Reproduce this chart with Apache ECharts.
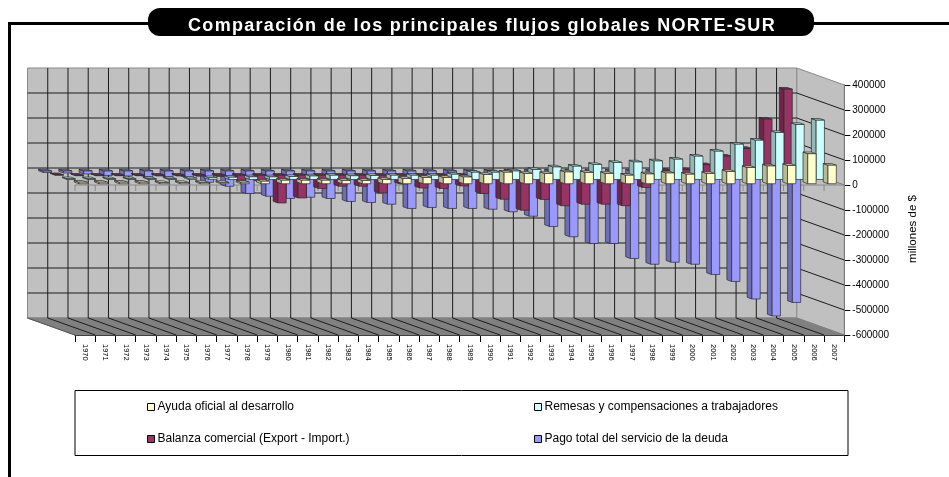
<!DOCTYPE html>
<html><head><meta charset="utf-8">
<style>html,body{margin:0;padding:0;background:#fff}#c{width:949px;height:477px}</style>
<script src="https://cdn.jsdelivr.net/npm/echarts@6/dist/echarts.min.js"></script>
</head><body><div id="c"></div>
<script>
const titleText = 'Comparación de los principales flujos globales NORTE-SUR';
const years = ['1970','1971','1972','1973','1974','1975','1976','1977','1978','1979','1980','1981','1982','1983','1984','1985','1986','1987','1988','1989','1990','1991','1992','1993','1994','1995','1996','1997','1998','1999','2000','2001','2002','2003','2004','2005','2006','2007'];
const ayuda = [6000,6000,6000,6000,5000,5000,5000,5000,6000,10000,14000,14000,14000,13000,13000,17000,21000,25000,25000,27000,37000,46000,41000,41000,47000,45000,41000,34000,39000,43000,38000,41000,49000,65000,71000,73000,120000,74000];
const remesas = [3000,3000,3000,3000,3000,3000,5000,7000,9000,10500,10500,12000,14000,17000,15000,16000,17000,17000,17000,21000,29000,29000,34000,40000,50000,53000,60000,68000,70000,74000,81000,93000,113000,141000,157000,188000,220000,237000];
const balanza = [2000,-2000,-2000,-2000,-2000,-3000,-3000,-4000,-5000,-20000,-25000,-111000,-91000,-53000,-44000,-44000,-71000,-35000,-51000,-53000,-43000,-73000,-96000,-140000,-97000,-122000,-116000,-116000,-122000,-49000,20000,22000,42000,76000,107000,224000,344000,null];
const deuda = [-6000,-8000,-12000,-18000,-20000,-23000,-23000,-26000,-45000,-61000,-90000,-101000,-110000,-105000,-110000,-122000,-126000,-133000,-150000,-146000,-150000,-150000,-153000,-163000,-181000,-222000,-263000,-290000,-290000,-350000,-373000,-365000,-373000,-414000,-442000,-512000,-580000,-526000];
const yTicks = {min:-600000,max:400000,interval:100000};

// the title in the reference is letter-spaced; keep it a single real text run
const nativeFillText = CanvasRenderingContext2D.prototype.fillText;
CanvasRenderingContext2D.prototype.fillText = function(t,x,y,m){
  if(t===titleText){ this.letterSpacing='1.3px'; nativeFillText.call(this,t,x,y); this.letterSpacing='0px'; }
  else if(m===undefined){ nativeFillText.call(this,t,x,y); }
  else { nativeFillText.call(this,t,x,y,m); }
};

const DX = -47.5, DY = -17, ROWS = 4;
function shade(c,k){const n=parseInt(c.slice(1),16);const f=s=>Math.round(((n>>s)&255)*k);return `rgb(${f(16)},${f(8)},${f(0)})`;}
function boxItem(row,color){
  return function(params,api){
    const v=api.value(1); if(v==null||isNaN(v)) return;
    const i=api.value(0);
    const a=api.coord([i,v]), b=api.coord([i,0]);
    const bw=api.size([1,0])[0]*0.41;
    const fx=(row+0.17)*DX/ROWS, fy=(row+0.3)*DY/ROWS, sx=0.4*DX/ROWS, sy=0.4*DY/ROWS;
    const x0=a[0]+fx-bw/2, x1=x0+bw;
    const yT=Math.min(a[1],b[1])+fy, yB=Math.max(a[1],b[1])+fy;
    const st={stroke:'#2b2b2b',lineWidth:0.7};
    return {type:'group',children:[
      {type:'polygon',shape:{points:[[x0,yB],[x0+sx,yB+sy],[x0+sx,yT+sy],[x0,yT]]},style:{fill:shade(color,0.72),...st}},
      {type:'polygon',shape:{points:[[x0,yT],[x0+sx,yT+sy],[x1+sx,yT+sy],[x1,yT]]},style:{fill:shade(color,0.85),...st}},
      {type:'rect',shape:{x:x0,y:yT,width:bw,height:yB-yT},style:{fill:color,...st}}
    ]};
  };
}
function wallsItem(params,api){
  if(params.dataIndex!==0) return;
  const L=api.coord([0,0])[0]-api.size([1,0])[0]/2, n=years.length, cw=api.size([1,0])[0];
  const R=L+n*cw;
  const T=api.coord([0,yTicks.max])[1], B=api.coord([0,yTicks.min])[1], Z=api.coord([0,0])[1];
  const kids=[];
  const edge={stroke:'#8a8a8a',lineWidth:1};
  kids.push({type:'polygon',shape:{points:[[L+DX,T+DY],[R+DX,T+DY],[R+DX,B+DY],[L+DX,B+DY]]},style:{fill:'#c0c0c0',...edge}});
  kids.push({type:'polygon',shape:{points:[[R+DX,T+DY],[R,T],[R,B],[R+DX,B+DY]]},style:{fill:'#c0c0c0',...edge}});
  kids.push({type:'polygon',shape:{points:[[L+DX,B+DY],[R+DX,B+DY],[R,B],[L,B]]},style:{fill:'#808080',stroke:'#808080',lineWidth:1}});
  const ln={stroke:'#1c1c1c',lineWidth:1};
  for(let k=1;k<n;k++){
    const x=L+k*cw;
    kids.push({type:'line',shape:{x1:x+DX,y1:T+DY,x2:x+DX,y2:B+DY},style:ln});
    kids.push({type:'line',shape:{x1:x+DX,y1:B+DY,x2:x,y2:B},style:ln});
  }
  kids.push({type:'line',shape:{x1:L+DX,y1:B+DY,x2:L,y2:B},style:{stroke:'#555',lineWidth:1}});
  for(let v=yTicks.min+yTicks.interval;v<=yTicks.max-yTicks.interval;v+=yTicks.interval){
    const y=api.coord([0,v])[1];
    kids.push({type:'line',shape:{x1:L+DX,y1:y+DY,x2:R+DX,y2:y+DY},style:ln});
    kids.push({type:'line',shape:{x1:R+DX,y1:y+DY,x2:R,y2:y},style:v===0?{stroke:'#777',lineWidth:1}:ln});
  }
  const zero={stroke:'#8a8a8a',lineWidth:1};
  kids.push({type:'line',shape:{x1:L,y1:Z,x2:R,y2:Z},style:zero});
  for(let k=0;k<=n;k++){const x=L+k*cw;kids.push({type:'line',shape:{x1:x,y1:Z,x2:x,y2:Z+6},style:zero});}
  return {type:'group',children:kids};
}
const C={ayuda:'#FFFFCC',remesas:'#CCFFFF',balanza:'#993366',deuda:'#9999FF'};
const N={ayuda:'Ayuda oficial al desarrollo',remesas:'Remesas y compensaciones a trabajadores',balanza:'Balanza comercial (Export - Import.)',deuda:'Pago total del servicio de la deuda'};
const mk=(key,vals,row)=>({type:'custom',name:N[key],coordinateSystem:'cartesian2d',z:5+(3-row),clip:false,
  itemStyle:{color:C[key]},encode:{x:0,y:1},renderItem:boxItem(row,C[key]),
  data:years.map((y,i)=>[y,vals[i]])});
const leg=(name,left,top)=>({data:[{name,itemStyle:{color:C[Object.keys(N).find(k=>N[k]===name)],borderColor:'#000',borderWidth:1}}],
  left,top,orient:'horizontal',itemWidth:7,itemHeight:7,itemGap:3,icon:'rect',selectedMode:false,padding:0,
  textStyle:{fontFamily:'Liberation Sans',fontSize:12,color:'#000',padding:[0,0,0,-2]}});
const chart=echarts.init(document.getElementById('c'),null,{renderer:'canvas'});
chart.setOption({
  animation:false,backgroundColor:'#fff',
  title:{text:titleText,left:477,top:12,textAlign:'center',
    textStyle:{color:'#fff',fontFamily:'Liberation Sans',fontWeight:'bold',fontSize:18}},
  grid:{left:75,right:104.7,top:85,bottom:142,containLabel:false},
  xAxis:{type:'category',data:years,boundaryGap:true,position:'bottom',
    axisLine:{show:true,onZero:false,lineStyle:{color:'#000',width:1}},
    axisTick:{show:true,length:7,alignWithLabel:false,lineStyle:{color:'#000'}},
    axisLabel:{rotate:-90,interval:0,fontSize:7.5,margin:9,color:'#000',fontFamily:'Liberation Sans'},splitLine:{show:false}},
  yAxis:{type:'value',position:'right',min:yTicks.min,max:yTicks.max,interval:yTicks.interval,
    name:'millones de $',nameLocation:'middle',nameRotate:90,nameGap:63,
    nameTextStyle:{fontFamily:'Liberation Sans',fontSize:11.5,color:'#000',padding:[0,38,0,0]},
    axisLine:{show:true,lineStyle:{color:'#000',width:1}},
    axisTick:{show:true,length:6,lineStyle:{color:'#000'}},
    axisLabel:{fontSize:10,margin:8,color:'#000',fontFamily:'Liberation Sans',align:'left',formatter:v=>String(v)},splitLine:{show:false}},
  legend:[leg(N.ayuda,147,401),leg(N.remesas,534,401),leg(N.balanza,147,433),leg(N.deuda,534,433)],
  graphic:[
    {type:'group',z:-1,silent:true,children:[
      {type:'rect',shape:{x:8,y:22,width:941,height:3},style:{fill:'#000'}},
      {type:'rect',shape:{x:8,y:22,width:3,height:455},style:{fill:'#000'}},
      {type:'rect',shape:{x:148,y:8,width:666,height:28,r:12},style:{fill:'#000'}},
      {type:'rect',shape:{x:75,y:390.5,width:773,height:65},style:{fill:'#fff',stroke:'#000',lineWidth:1}}
    ]}
  ],
  series:[
    {type:'custom',name:'walls',coordinateSystem:'cartesian2d',z:1,clip:false,encode:{x:0,y:1},renderItem:wallsItem,data:[[years[0],0]],silent:true},
    mk('deuda',deuda,3),mk('balanza',balanza,2),mk('remesas',remesas,1),mk('ayuda',ayuda,0)
  ]
});
</script></body></html>
